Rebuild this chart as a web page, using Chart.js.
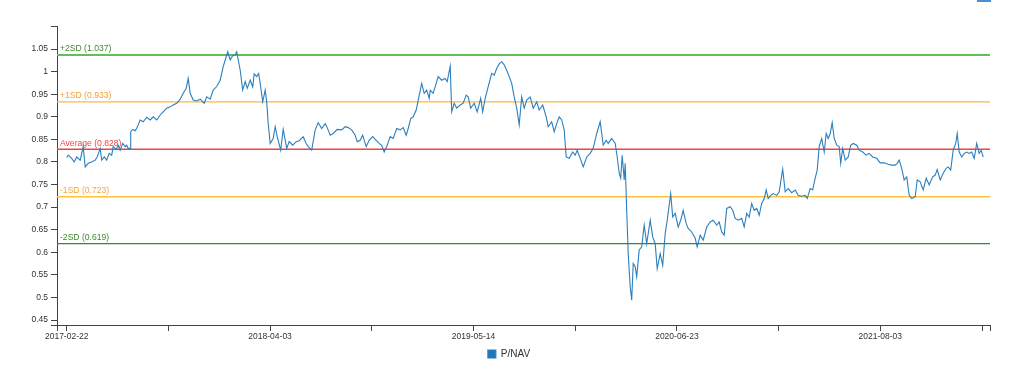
<!DOCTYPE html>
<html>
<head>
<meta charset="utf-8">
<script src="https://cdn.jsdelivr.net/npm/chart.js@4"></script>
<style>
  body { margin: 0; background: #fff; }
  #wrap { position: relative; width: 1024px; height: 366px; }
  #topbar { position: absolute; left: 977px; top: 0; width: 14px; height: 2px; background: #4a8fd6; }
</style>
</head>
<body>
<div id="wrap">
  <canvas id="chart"></canvas>
  <div id="topbar"></div>
</div>
<script>
// jours depuis 2017-02-22
const days = [0,3,10,15,20,27,33,37,43,50,57,61,67,70,75,80,85,90,93,99,103,107,112,117,120,123,127,128,132,137,141,147,153,160,167,173,180,187,193,200,207,213,220,227,233,239,243,247,253,260,267,275,280,287,293,300,307,313,318,322,327,332,337,340,347,352,357,361,367,372,375,380,384,388,392,397,400,403,407,413,417,421,428,433,440,445,452,459,465,473,479,483,490,497,503,510,517,521,527,533,541,550,557,563,570,577,581,587,592,599,605,612,619,625,630,635,640,647,653,660,667,673,679,683,688,693,699,703,710,715,720,725,727,733,739,743,750,757,761,767,770,775,780,787,793,799,803,808,815,821,828,832,837,843,850,855,860,865,870,875,880,885,890,895,900,905,910,915,920,927,933,940,945,952,959,963,970,975,980,985,990,995,999,1005,1012,1017,1021,1027,1033,1040,1047,1053,1060,1067,1073,1079,1083,1090,1097,1101,1105,1108,1111,1115,1117,1120,1123,1127,1130,1133,1137,1140,1145,1150,1155,1160,1167,1172,1177,1181,1187,1192,1197,1201,1208,1212,1217,1223,1228,1233,1239,1243,1250,1257,1261,1267,1273,1280,1287,1293,1300,1305,1310,1315,1320,1327,1332,1337,1343,1350,1355,1360,1365,1370,1375,1380,1385,1390,1395,1399,1403,1408,1413,1420,1425,1432,1437,1443,1450,1457,1463,1470,1477,1481,1487,1492,1497,1501,1505,1510,1515,1519,1523,1527,1531,1535,1540,1545,1548,1552,1557,1563,1568,1573,1580,1585,1592,1599,1605,1612,1620,1627,1635,1643,1650,1657,1661,1665,1670,1675,1680,1685,1690,1697,1701,1707,1713,1719,1725,1732,1737,1741,1747,1753,1759,1763,1768,1773,1778,1781,1785,1790,1795,1800,1805,1810,1815,1820,1825,1829,1833];

// valeurs P/NAV
const pnav = [0.810,0.815,0.808,0.800,0.811,0.804,0.834,0.789,0.797,0.800,0.804,0.811,0.830,0.804,0.811,0.804,0.819,0.815,0.834,0.828,0.837,0.826,0.841,0.834,0.837,0.830,0.830,0.867,0.872,0.869,0.877,0.893,0.889,0.899,0.893,0.900,0.893,0.904,0.911,0.919,0.922,0.926,0.930,0.939,0.952,0.963,0.985,0.952,0.937,0.935,0.939,0.930,0.944,0.939,0.959,0.967,0.981,1.011,1.029,1.044,1.026,1.035,1.037,1.044,1.003,0.959,0.978,0.963,0.981,0.966,0.995,0.989,0.996,0.966,0.933,0.959,0.933,0.885,0.841,0.852,0.878,0.856,0.826,0.872,0.830,0.845,0.837,0.845,0.847,0.856,0.841,0.834,0.826,0.871,0.887,0.874,0.885,0.876,0.859,0.863,0.872,0.871,0.878,0.876,0.871,0.859,0.845,0.848,0.859,0.834,0.848,0.856,0.848,0.841,0.837,0.822,0.834,0.856,0.852,0.874,0.871,0.876,0.859,0.874,0.896,0.900,0.915,0.937,0.974,0.952,0.959,0.941,0.959,0.952,0.974,0.989,0.981,0.985,0.978,1.012,0.911,0.930,0.919,0.926,0.930,0.948,0.944,0.919,0.930,0.911,0.941,0.911,0.941,0.967,0.996,0.992,1.007,1.017,1.022,1.015,1.003,0.989,0.974,0.944,0.919,0.882,0.944,0.919,0.937,0.944,0.919,0.933,0.915,0.926,0.900,0.878,0.889,0.867,0.885,0.900,0.893,0.871,0.811,0.808,0.822,0.815,0.826,0.808,0.789,0.811,0.819,0.830,0.863,0.889,0.837,0.848,0.841,0.852,0.841,0.811,0.775,0.764,0.815,0.760,0.797,0.693,0.597,0.523,0.494,0.575,0.568,0.546,0.605,0.612,0.660,0.619,0.671,0.634,0.619,0.564,0.597,0.571,0.642,0.671,0.730,0.678,0.686,0.656,0.671,0.693,0.664,0.653,0.645,0.631,0.612,0.638,0.627,0.656,0.667,0.671,0.660,0.667,0.645,0.638,0.697,0.701,0.693,0.675,0.671,0.675,0.656,0.686,0.678,0.708,0.693,0.697,0.682,0.708,0.719,0.738,0.719,0.726,0.730,0.726,0.734,0.784,0.734,0.741,0.732,0.738,0.726,0.724,0.726,0.719,0.741,0.738,0.764,0.782,0.834,0.852,0.822,0.863,0.852,0.863,0.887,0.852,0.837,0.834,0.797,0.830,0.804,0.811,0.837,0.841,0.837,0.826,0.822,0.815,0.819,0.811,0.808,0.798,0.798,0.795,0.793,0.793,0.797,0.804,0.786,0.760,0.767,0.726,0.719,0.723,0.760,0.756,0.738,0.764,0.749,0.767,0.771,0.783,0.760,0.775,0.786,0.789,0.782,0.826,0.841,0.863,0.822,0.811,0.819,0.822,0.819,0.822,0.808,0.841,0.819,0.826,0.811];

// lignes de reference (moyenne +- ecarts types)
const sdNames = ['+2SD', '+1SD', 'Average', '-1SD', '-2SD'];
const sdValues = [1.037, 0.933, 0.828, 0.723, 0.619];

// ticks de l'axe x (jours) et leurs etiquettes
const xTickDays = [0, 203.4, 406.8, 610.2, 813.6, 1017, 1220.4, 1423.8, 1627.2, 1830.6];
const xTickLabels = ['2017-02-22', '', '2018-04-03', '', '2019-05-14', '', '2020-06-23', '', '2021-08-03', ''];
const yTickValues = [0.45, 0.5, 0.55, 0.6, 0.65, 0.7, 0.75, 0.8, 0.85, 0.9, 0.95, 1, 1.05];

const X_MIN = -19.4, X_MAX = 1846.6;
const Y_MIN = 0.439, Y_MAX = 1.101;

// styles des lignes SD
const sdLineColors = ['#66bb5a', '#ffb44a', '#ee4444', '#ffc23e', '#2e8b2e'];
const sdTextColors = ['#3f8a2f', '#f5a033', '#ee4444', '#f2a640', '#3f8a2f'];
const sdWidths = [2, 1.2, 1.4, 1.4, 1.2];

const ctx = document.getElementById('chart').getContext('2d');
ctx.canvas.width = 1024;
ctx.canvas.height = 366;

const datasets = [{
  label: 'P/NAV',
  data: days.map((d, i) => ({ x: d, y: pnav[i] })),
  borderColor: '#2b7fbd',
  backgroundColor: '#1f77b4',
  borderWidth: 1.1,
  pointRadius: 0,
  tension: 0,
  order: 0
}];
sdValues.forEach((v, i) => {
  datasets.push({
    label: sdNames[i],
    data: [{ x: X_MIN, y: v }, { x: X_MAX, y: v }],
    borderColor: sdLineColors[i],
    borderWidth: sdWidths[i],
    pointRadius: 0,
    order: 1
  });
});

// ecrit les etiquettes "+2SD (1.037)" au dessus de chaque ligne
const sdLabelPlugin = {
  id: 'sdLabels',
  beforeDatasetsDraw(chart) {
    const c = chart.ctx, y = chart.scales.y, a = chart.chartArea;
    c.save();
    c.font = '8.6px "Liberation Sans", Arial, sans-serif';
    c.textBaseline = 'alphabetic';
    sdValues.forEach((v, i) => {
      c.fillStyle = sdTextColors[i];
      c.fillText(sdNames[i] + ' (' + v.toFixed(3) + ')', a.left + 3, y.getPixelForValue(v) - 3.5);
    });
    c.restore();
  }
};

const tickFont = { family: '"Liberation Sans", Arial, sans-serif', size: 8.5 };

const chart = new Chart(ctx, {
  type: 'line',
  data: { datasets: datasets },
  plugins: [sdLabelPlugin],
  options: {
    responsive: false,
    animation: false,
    // padding gauche 28 => legende centree vers x=509 comme l'original
    layout: { padding: { left: 28, top: 26, right: 34, bottom: 0 } },
    plugins: {
      tooltip: { enabled: false },
      legend: {
        position: 'bottom',
        maxHeight: 21,
        labels: {
          filter: item => item.text === 'P/NAV',
          boxWidth: 8,
          boxHeight: 8,
          padding: 4,
          color: '#333',
          font: { family: '"Liberation Sans", Arial, sans-serif', size: 10 }
        }
      }
    },
    scales: {
      x: {
        type: 'linear',
        min: X_MIN,
        max: X_MAX,
        afterFit: s => { s.height = 20; },
        afterBuildTicks: s => {
          s.ticks = [X_MIN].concat(xTickDays, [X_MAX]).map(v => ({ value: v }));
        },
        grid: { drawOnChartArea: false, tickLength: 6, color: '#444', lineWidth: 1 },
        border: { color: '#444', width: 1 },
        ticks: {
          autoSkip: false,
          maxRotation: 0,
          padding: 1,
          color: '#333',
          font: tickFont,
          callback: v => {
            const k = xTickDays.indexOf(v);
            return k >= 0 ? xTickLabels[k] : '';
          }
        }
      },
      y: {
        min: Y_MIN,
        max: Y_MAX,
        afterFit: s => { s.width = 29; },
        afterBuildTicks: s => {
          s.ticks = [Y_MIN].concat(yTickValues, [Y_MAX]).map(v => ({ value: v }));
        },
        grid: { drawOnChartArea: false, tickLength: 6, color: '#444', lineWidth: 1 },
        border: { color: '#444', width: 1 },
        ticks: {
          padding: 3,
          color: '#333',
          font: tickFont,
          callback: v => (yTickValues.indexOf(v) >= 0 ? String(+v.toFixed(2)) : '')
        }
      }
    }
  }
});
</script>
</body>
</html>
